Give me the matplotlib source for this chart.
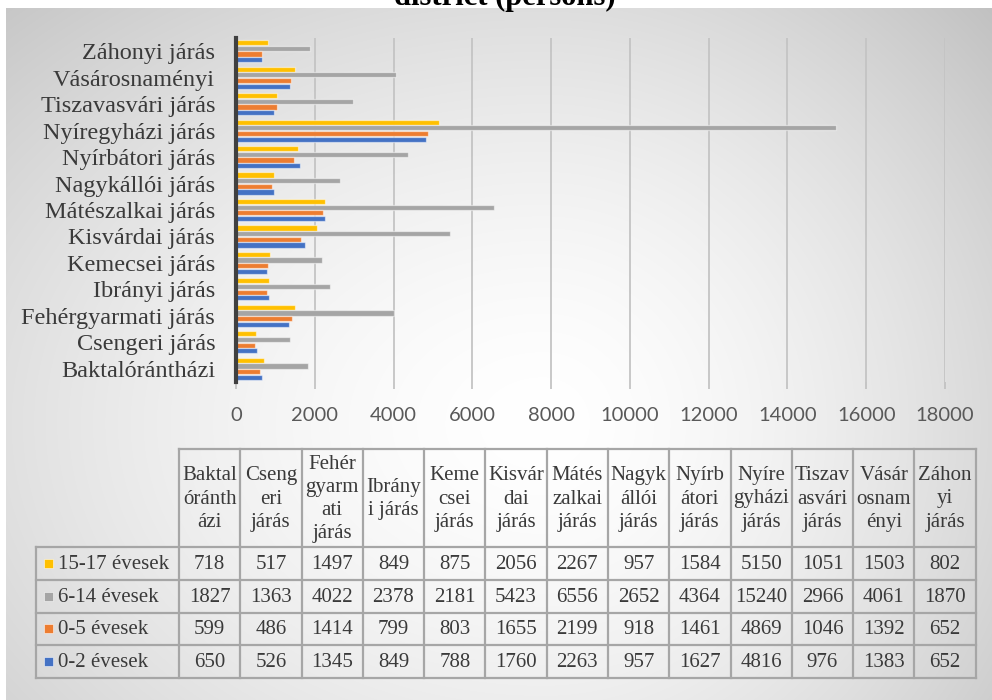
import numpy as np
import matplotlib.pyplot as plt

# ---- data -------------------------------------------------------------
districts = [
    "Baktalórántházi", "Csengeri járás", "Fehérgyarmati járás", "Ibrányi járás",
    "Kemecsei járás", "Kisvárdai járás", "Mátészalkai járás", "Nagykállói járás",
    "Nyírbátori járás", "Nyíregyházi járás", "Tiszavasvári járás",
    "Vásárosnaményi", "Záhonyi járás",
]
table_headers = [
    "Baktal\nóránth\názi", "Cseng\neri\njárás", "Fehér\ngyarm\nati\njárás",
    "Ibrány\ni járás", "Keme\ncsei\njárás", "Kisvár\ndai\njárás",
    "Mátés\nzalkai\njárás", "Nagyk\nállói\njárás", "Nyírb\nátori\njárás",
    "Nyíre\ngyházi\njárás", "Tiszav\nasvári\njárás", "Vásár\nosnam\nényi",
    "Záhon\nyi\njárás",
]
series_names = ["15-17 évesek", "6-14 évesek", "0-5 évesek", "0-2 évesek"]
age_15_17 = [718, 517, 1497, 849, 875, 2056, 2267, 957, 1584, 5150, 1051, 1503, 802]
age_6_14 = [1827, 1363, 4022, 2378, 2181, 5423, 6556, 2652, 4364, 15240, 2966, 4061, 1870]
age_0_5 = [599, 486, 1414, 799, 803, 1655, 2199, 918, 1461, 4869, 1046, 1392, 652]
age_0_2 = [650, 526, 1345, 849, 788, 1760, 2263, 957, 1627, 4816, 976, 1383, 652]
x_ticks = list(range(0, 18001, 2000))

series_values = [age_15_17, age_6_14, age_0_5, age_0_2]
series_colors = ["#FFC000", "#A5A5A5", "#ED7D31", "#4472C4"]

W, H = 992, 700
fig = plt.figure(figsize=(W / 100, H / 100), dpi=100)
fig.patch.set_facecolor("white")

# ---- background panel with radial gradient (pixel coordinates) --------
bg = fig.add_axes([0, 0, 1, 1], zorder=-10)
bg.set_xlim(0, W)
bg.set_ylim(H, 0)
bg.axis("off")
yy, xx = np.mgrid[0:H, 0:W].astype(float)
cx, cy = 540.0, 420.0
rx = np.where(xx > cx, 470.0, 640.0)
d = np.sqrt(((xx - cx) / rx) ** 2 + ((yy - cy) / 470.0) ** 2)
val = np.clip(255 - 40 * d ** 1.6, 190, 255) / 255.0
img = np.dstack([val, val, val])
bg.imshow(img, extent=(6, W, H, 8), aspect="auto", interpolation="bilinear", zorder=0)

# ---- bar chart --------------------------------------------------------
ax = fig.add_axes([236 / W, 1 - 382 / H, (945 - 236) / W, (382 - 38) / H])
ax.set_facecolor("none")
y = np.arange(len(districts))
slot = 0.214
offsets = [1.5 * slot, 0.5 * slot, -0.5 * slot, -1.5 * slot]
for vals, col, off in zip(series_values, series_colors, offsets):
    ax.barh(y + off, vals, height=slot * 0.92, color=col,
            edgecolor=(1, 1, 1, 0.5), linewidth=0.9, zorder=3)

ax.set_xlim(0, 18000)
ax.set_ylim(-0.5, len(districts) - 0.5)
ax.set_xticks(x_ticks)
ax.set_xticklabels([str(v) for v in x_ticks], fontsize=14.5, family="Lato", color="#595959")
ax.set_yticks(y)
ax.set_yticklabels(districts, fontsize=17.5, family="Liberation Serif", color="#3a3a3a")
ax.tick_params(axis="y", length=0, pad=15)
ax.tick_params(axis="x", length=5, color="#bfbfbf", width=1.2, pad=13)
ax.grid(axis="x", color="#c4c4c4", linewidth=1.3, zorder=0)
for s in ("top", "right", "bottom"):
    ax.spines[s].set_visible(False)
ax.spines["left"].set_color("#404040")
ax.spines["left"].set_linewidth(3)
ax.spines["left"].set_zorder(5)

# ---- title (first line falls outside the canvas) ----------------------
fig.text(505 / W, 1 - 5 / H, "district (persons)", ha="center", va="baseline",
         fontsize=22, fontweight="bold", family="Liberation Serif", color="black")

# ---- data table -------------------------------------------------------
grid_col = "#a6a6a6"
txt_col = "#3a3a3a"
tfont = dict(family="Liberation Serif", fontsize=15, color=txt_col)
x0, x1 = 179.0, 975.7
legend_left = 36.0
ncol = len(table_headers)
col_edges = np.linspace(x0, x1, ncol + 1)
header_top, header_bot = 449.0, 547.0
row_edges = np.linspace(header_bot, 678.0, len(series_names) + 1)

lw = 1.6
for xe in col_edges:
    bg.plot([xe, xe], [header_top, row_edges[-1]], color=grid_col, lw=lw, zorder=2)
bg.plot([x0, x1], [header_top, header_top], color=grid_col, lw=lw, zorder=2)
bg.plot([legend_left, legend_left], [header_bot, row_edges[-1]], color=grid_col, lw=lw, zorder=2)
for ye in row_edges:
    bg.plot([legend_left, x1], [ye, ye], color=grid_col, lw=lw, zorder=2)

for i, hdr in enumerate(table_headers):
    xc = (col_edges[i] + col_edges[i + 1]) / 2
    bg.text(xc, (header_top + header_bot) / 2 + 1, hdr, ha="center", va="center",
            linespacing=1.3, zorder=3, **tfont)

for r, (name, vals, col) in enumerate(zip(series_names, series_values, series_colors)):
    yc = (row_edges[r] + row_edges[r + 1]) / 2
    bg.add_patch(plt.Rectangle((44, yc - 4.5), 9, 9, facecolor=col,
                               edgecolor=(1, 1, 1, 0.6), lw=0.6, zorder=3))
    bg.text(58, yc + 1, name, ha="left", va="center", zorder=3, **tfont)
    for i, v in enumerate(vals):
        xc = (col_edges[i] + col_edges[i + 1]) / 2
        bg.text(xc, yc + 1, str(v), ha="center", va="center", zorder=3, **tfont)

fig.savefig("out.png", dpi=100)
